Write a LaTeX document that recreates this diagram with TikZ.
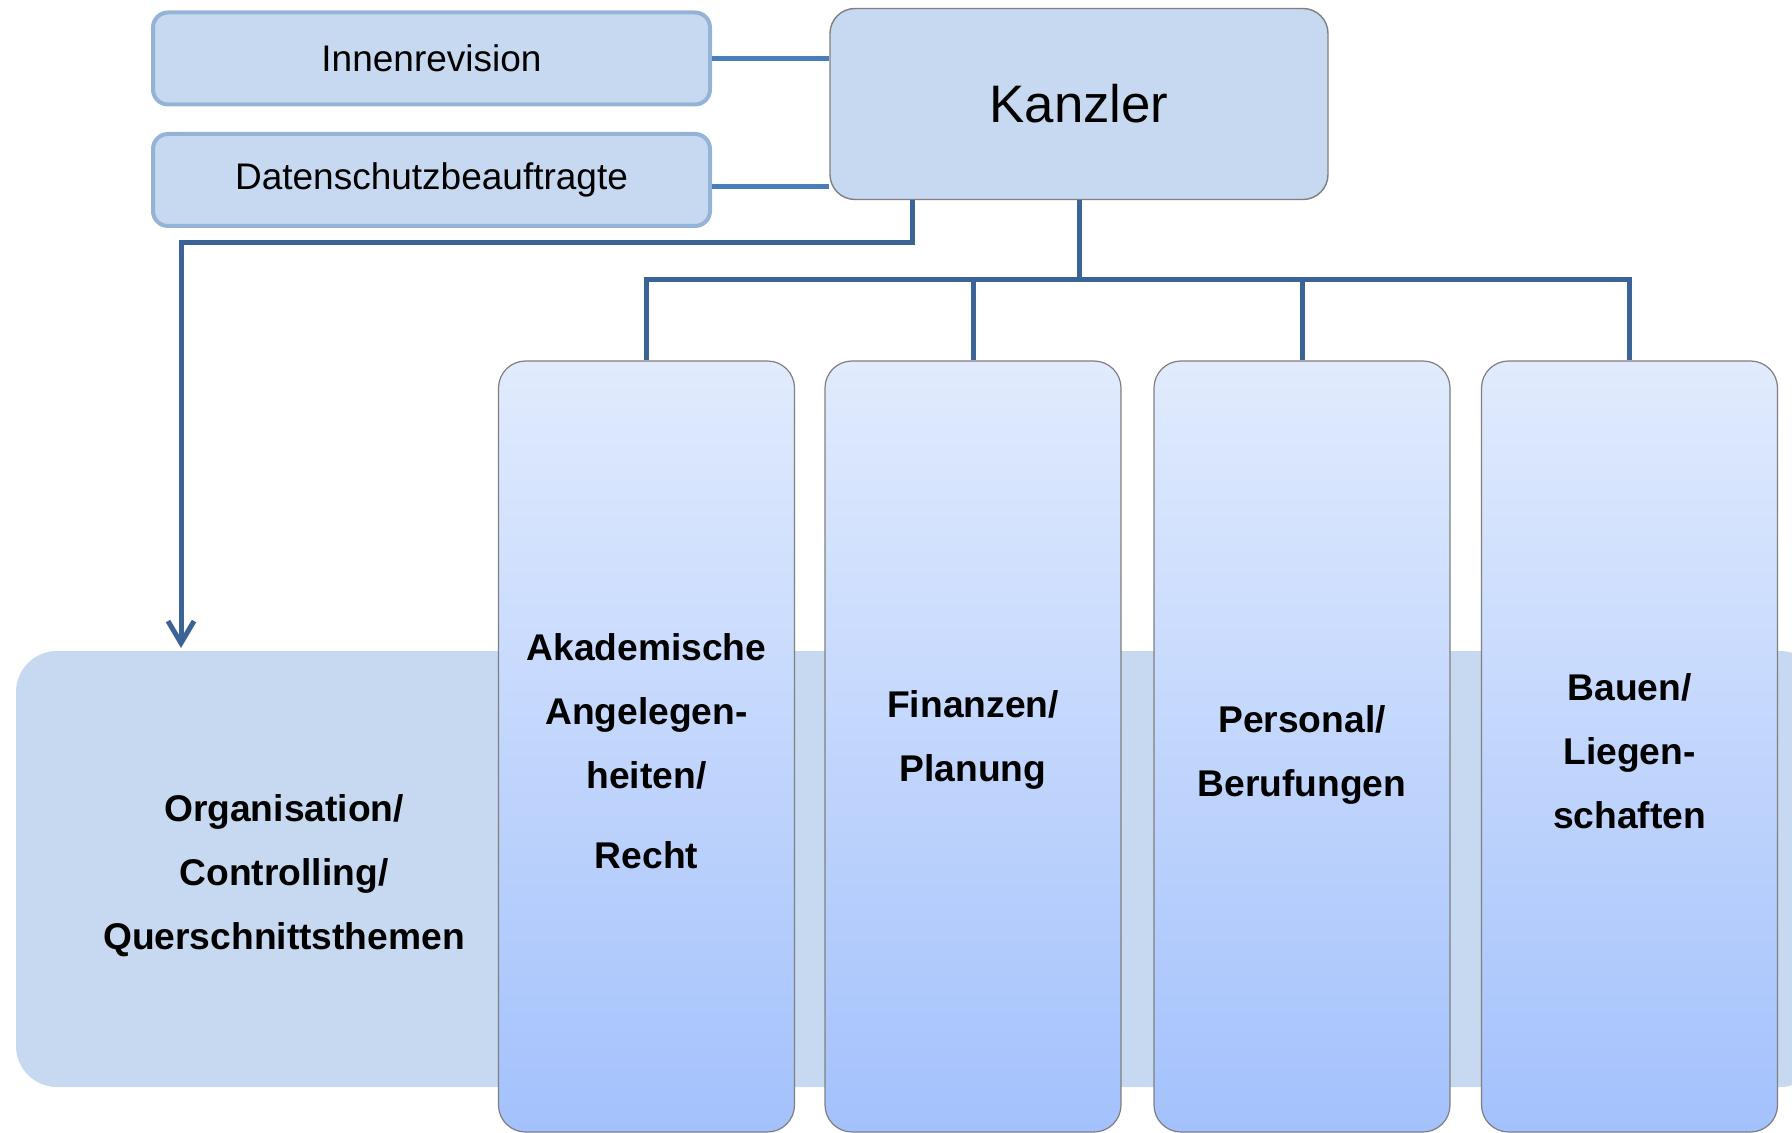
\documentclass[tikz,border=0pt]{standalone}
\usepackage{fontspec}
\setmainfont{Liberation Sans}
\usetikzlibrary{arrows.meta, calc, positioning}

\definecolor{boxfill}{HTML}{C6D9F0}
\definecolor{boxedge}{HTML}{95B3D7}
\definecolor{treeblue}{HTML}{3B6398}
\definecolor{sideblue}{HTML}{4A7EBB}
\definecolor{coltop}{HTML}{E1EBFD}
\definecolor{colbot}{HTML}{A3C1FC}
\definecolor{edgegray}{HTML}{7F7F7F}

\tikzset{
  staffbox/.style={draw=boxedge, fill=boxfill, line width=2pt, rounded corners=7.5pt,
    minimum width=278.5pt, minimum height=46pt, inner sep=0pt,
    font=\fontsize{18.5}{22}\selectfont},
  headbox/.style={draw=edgegray, fill=boxfill, line width=0.7pt, rounded corners=12.5pt,
    minimum width=249pt, minimum height=95.5pt, inner sep=0pt,
    font=\fontsize{26.4}{32}\selectfont},
  deptbox/.style={draw=edgegray, line width=0.6pt, rounded corners=13.5pt,
    top color=coltop, bottom color=colbot, minimum width=148pt, minimum height=385.5pt,
    inner sep=0pt},
  depttext/.style={align=center, font=\bfseries\fontsize{18.6}{32}\selectfont},
  tree/.style={draw=treeblue, line width=2.5pt},
  side/.style={draw=sideblue, line width=2.5pt}
}

\begin{document}
\begin{tikzpicture}[x=0.5pt, y=-0.5pt]
  \useasboundingbox (0,0) rectangle (1792,1133);

  % Querschnitt im Hintergrund
  \node (orgbg) [fill=boxfill, rounded corners=20.5pt, minimum width=902.5pt,
    minimum height=218pt, inner sep=0pt] at (918.5,869) {};
  \node (org) [depttext] at (284,876) {Organisation/\\Controlling/\\Querschnittsthemen};

  % Leitung und Stabsstellen
  \node (kanzler) [headbox] at (1079,104) {Kanzler};
  \node (inr) [staffbox] at (431.5,58.5) {Innenrevision};
  \node (dsb) [staffbox] at (431.5,180) {Datenschutzbeauftragte};

  % Dezernate
  \node (akad) [deptbox] at (646.5,746.5) {};
  \node (fin)  [deptbox] at (973,746.5) {};
  \node (pers) [deptbox] at (1302,746.5) {};
  \node (bau)  [deptbox] at (1629.5,746.5) {};
  \node (akadtext) [depttext] at ($(akad)+(0,5)$) {Akademische\\Angelegen-\\heiten/\\[8pt]Recht};
  \node (fintext)  [depttext] at ($(fin)+(0,-7)$) {Finanzen/\\Planung};
  \node (perstext) [depttext] at ($(pers)+(0,8)$) {Personal/\\Berufungen};
  \node (bautext)  [depttext] at ($(bau)+(0,5)$) {Bauen/\\Liegen-\\schaften};

  % Verbindungen
  \draw[side] (inr.east) -- (inr.east -| kanzler.west);
  \draw[side] ($(dsb.east)+(0,7)$) -- ($(dsb.east -| kanzler.west)+(0,7)$);

  \coordinate (fork) at ($(kanzler.south)+(0,79)$);
  \draw[tree] (kanzler.south) -- (fork);
  \foreach \d in {akad,fin,pers,bau}
    \draw[tree] (fork) -| (\d.north);

  \coordinate (bend) at (181,243);
  \coordinate (arrowtip) at (181,648);
  \draw[tree, -{Straight Barb[length=11pt,width=13pt]}]
    ($(kanzler.south)+(-167,0)$) |- (bend) -- (arrowtip);
\end{tikzpicture}
\end{document}
